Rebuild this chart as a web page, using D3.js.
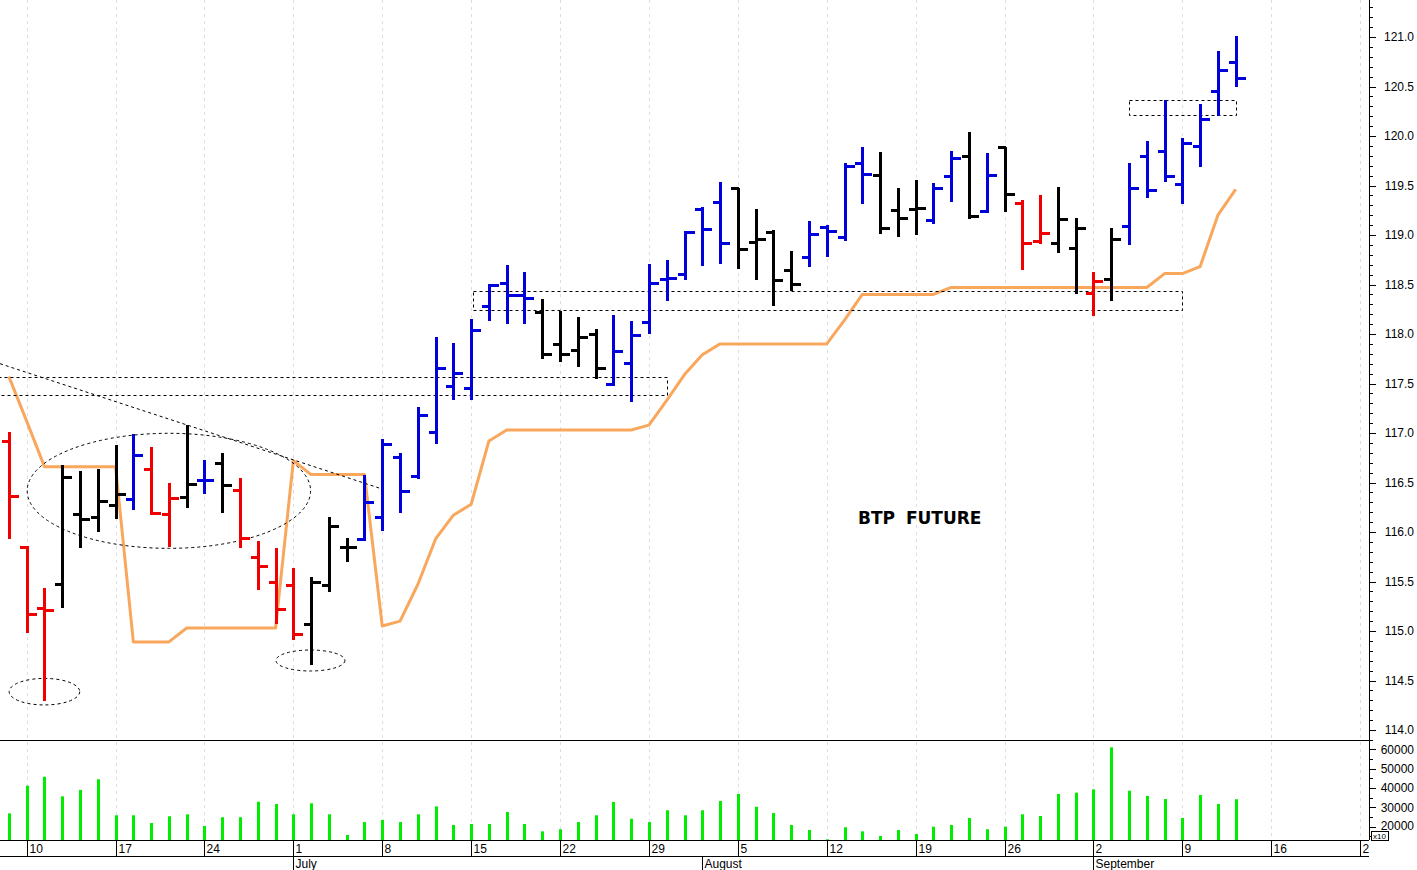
<!DOCTYPE html>
<html><head><meta charset="utf-8">
<script src="https://cdn.jsdelivr.net/npm/d3@7"></script>
<style>
html,body{margin:0;padding:0;background:#fff;}
svg{display:block;}
text{font-family:"Liberation Sans",Arial,sans-serif;}
text.title{font-family:"DejaVu Sans",Verdana,sans-serif;font-weight:bold;}
</style></head><body>
<svg id="chart" width="1417" height="870"></svg>
<script>
// ---------------- DATA ----------------
const startDate = "2019-06-07";   // first trading day shown (index 0)
const open  = [116.92,115.85,115.23,115.47,116.18,116.15,116.27,116.33,116.64,116.18,
               116.35,116.53,116.70,116.42,115.75,115.50,115.46,115.07,115.46,115.85,
               115.93,116.15,116.76,116.57,117.01,117.47,117.45,118.28,118.52,118.39,
               118.22,117.90,117.84,118.00,117.50,117.71,118.12,118.56,118.61,119.26,
               119.33,119.47,118.93,119.03,118.65,118.78,119.08,118.98,119.73,119.61,
               119.25,119.26,119.15,119.60,119.80,119.24,119.89,119.32,118.94,118.92,
               118.87,118.41,118.56,119.09,119.80,119.85,119.52,119.90,120.45,120.75];
const high  = [117.01,115.86,115.43,116.68,116.62,116.64,116.88,116.99,116.86,116.49,
               117.08,116.73,116.80,116.55,115.91,115.84,115.64,115.55,116.15,115.94,
               116.58,116.94,116.80,117.26,117.97,117.91,118.15,118.50,118.70,118.63,
               118.35,118.23,118.17,118.05,118.19,118.13,118.71,118.75,119.04,119.28,
               119.54,119.47,119.26,119.05,118.84,119.14,119.10,119.73,119.89,119.84,
               119.47,119.56,119.53,119.85,120.04,119.83,119.89,119.35,119.40,119.48,
               119.17,118.63,119.07,119.73,119.95,120.36,119.98,120.32,120.86,121.01];
const low   = [115.95,115.00,114.31,115.25,115.86,116.02,116.15,116.24,116.19,115.87,
               116.26,116.40,116.21,115.86,115.43,115.09,114.93,114.68,115.41,115.72,
               115.93,116.03,116.21,116.56,116.91,117.35,117.35,118.15,118.12,118.12,
               117.77,117.74,117.69,117.57,117.50,117.33,118.02,118.35,118.57,118.71,
               118.73,118.68,118.57,118.30,118.45,118.70,118.80,118.96,119.33,119.03,
               119.00,119.02,119.13,119.35,119.18,119.24,119.25,118.67,118.93,118.84,
               118.42,118.20,118.35,118.92,119.39,119.56,119.33,119.71,120.22,120.52];
const close = [116.36,115.17,115.21,116.56,116.13,116.31,116.38,116.78,116.19,116.34,
               116.48,116.53,116.47,115.94,115.66,115.22,114.97,115.49,116.06,115.85,
               116.30,116.89,116.41,117.18,117.66,117.61,118.04,118.49,118.39,118.36,
               117.80,117.80,117.97,117.66,117.83,117.99,118.52,118.57,119.03,119.06,
               118.92,118.86,118.96,118.55,118.51,119.01,119.04,119.70,119.62,119.07,
               119.17,119.27,119.47,119.78,119.19,119.61,119.41,118.92,119.02,119.16,
               119.07,118.54,118.96,119.47,119.45,119.60,119.93,120.17,120.67,120.59];
// bar colour state: b = blue, k = black, r = red
const barState = ["r","r","r","k","k","k","k","b","r","r",
                  "k","b","k","r","r","r","r","k","k","k",
                  "b","b","b","b","b","b","b","b","b","b",
                  "k","k","k","k","b","b","b","b","b","b",
                  "b","k","k","k","k","b","b","b","b","k",
                  "k","k","b","b","k","b","k","r","r","k",
                  "k","r","k","b","b","b","b","b","b","b"];
const volume = [26900,41200,45800,35700,39000,44500,25900,25900,21900,25400,
                26400,20400,24900,24900,32900,31700,26400,32100,26400,15700,
                22400,23500,22400,26400,30500,20900,21400,21400,27600,21400,
                17600,18700,22400,25900,32800,24100,22400,28500,25900,28500,
                33300,36900,30300,27100,20900,18300,13500,19700,17600,15200,
                18300,16200,20000,20900,24500,18700,20000,26400,25500,36900,
                37600,39300,61000,38600,35900,34300,24500,36400,31700,34200];
const stopLine = [117.57,117.12,116.66,116.66,116.66,116.66,116.66,114.89,114.89,114.89,
                  115.03,115.03,115.03,115.03,115.03,115.03,116.72,116.58,116.58,116.58,
                  116.58,115.05,115.10,115.47,115.93,116.17,116.28,116.92,117.03,117.03,
                  117.03,117.03,117.03,117.03,117.03,117.03,117.08,117.33,117.59,117.79,
                  117.90,117.90,117.90,117.90,117.90,117.90,117.90,118.14,118.40,118.40,
                  118.40,118.40,118.40,118.47,118.47,118.47,118.47,118.47,118.47,118.47,
                  118.47,118.47,118.47,118.47,118.47,118.61,118.61,118.68,119.20,119.46];
const priceTicks  = [114.0,114.5,115.0,115.5,116.0,116.5,117.0,117.5,118.0,118.5,119.0,119.5,120.0,120.5,121.0];
const volumeTicks = [20000,30000,40000,50000,60000];
const monthNames  = ["January","February","March","April","May","June","July","August","September","October","November","December"];
const titleText   = "BTP FUTURE";
// annotations in data units (bar index, price)
const boxes    = [{from:-3, to:37, lo:117.39, hi:117.57},
                  {from:26.1, to:66, lo:118.246, hi:118.434},
                  {from:63, to:69, lo:120.219, hi:120.367}];
const ellipses = [{ci:9, ri:7.97, cp:116.416, rp:0.581},
                  {ci:2, ri:1.985, cp:114.387, rp:0.134},
                  {ci:16.96, ri:1.94, cp:114.702, rp:0.106}];
const trendLine = [{i:-0.5, p:117.70},{i:20.9, p:116.44}];

// ---------------- LAYOUT ----------------
const W = 1417, H = 870;
const plotR = 1369, priceBot = 740, volBot = 840, dateBot = 856;
const colors = {b:"#0000dc", k:"#000000", r:"#f00000"};

function tradingDays(start, n){
  const out=[]; const d=new Date(start+"T00:00:00");
  while(out.length<n){ const wd=d.getDay(); if(wd!==0&&wd!==6) out.push(new Date(d)); d.setDate(d.getDate()+1); }
  return out;
}
const calendar = tradingDays(startDate, 78);

const x = d3.scaleLinear().domain([-0.5, 76.5]).range([0, plotR]);
const y = d3.scaleLinear().domain([114, 121]).range([730, 37]);
const yv = d3.scaleLinear().domain([20000, 60000]).range([826.7, 749.3]);
const px = i => Math.round(x(i)) + 0.5;
const py = v => Math.round(y(v)) + 0.5;

const svg = d3.select("#chart");
const defs = svg.append("defs");
defs.append("clipPath").attr("id","cpPrice").append("rect").attr("x",0).attr("y",0).attr("width",plotR).attr("height",priceBot);
defs.append("clipPath").attr("id","cpVol").append("rect").attr("x",0).attr("y",priceBot).attr("width",plotR).attr("height",volBot-priceBot);
defs.append("clipPath").attr("id","cpDate").append("rect").attr("x",0).attr("y",volBot).attr("width",plotR).attr("height",H-volBot);

svg.append("rect").attr("width",W).attr("height",H).attr("fill","#fff");

const mondays = d3.range(calendar.length).filter(i => calendar[i].getDay()===1);
const monthStarts = d3.range(1, calendar.length).filter(i => calendar[i].getMonth()!==calendar[i-1].getMonth());

// grid
svg.append("g").selectAll("line").data(mondays).join("line")
  .attr("x1",d=>Math.round(x(d))+0.5).attr("x2",d=>Math.round(x(d))+0.5)
  .attr("y1",0).attr("y2",volBot)
  .attr("stroke","#dcdce4").attr("stroke-width",1).attr("stroke-dasharray","3,4");

// price panel
const pg = svg.append("g").attr("clip-path","url(#cpPrice)");

// stop line
pg.append("path").datum(stopLine)
  .attr("d", d3.line().x((d,i)=>x(i)).y(d=>y(d)))
  .attr("fill","none").attr("stroke","#f8a75c").attr("stroke-width",3).attr("stroke-linejoin","round");

// annotations
const ann = pg.append("g").attr("fill","none").attr("stroke","#000").attr("stroke-width",1).attr("stroke-dasharray","3,3");
ann.selectAll("rect").data(boxes).join("rect")
  .attr("x",d=>Math.round(x(d.from))+0.5).attr("y",d=>Math.round(y(d.hi))+0.5)
  .attr("width",d=>Math.round(x(d.to)-x(d.from))).attr("height",d=>Math.round(y(d.lo)-y(d.hi)));
ann.selectAll("ellipse").data(ellipses).join("ellipse")
  .attr("cx",d=>x(d.ci)).attr("cy",d=>y(d.cp))
  .attr("rx",d=>x(d.ci+d.ri)-x(d.ci)).attr("ry",d=>y(d.cp-d.rp)-y(d.cp));
ann.append("path").datum(trendLine).attr("d", d3.line().x(d=>x(d.i)).y(d=>y(d.p)));

// OHLC bars
const bars = d3.range(open.length).map(i=>({i,o:open[i],h:high[i],l:low[i],c:close[i],col:colors[barState[i]]}));
const bg = pg.append("g").attr("stroke-width",3).attr("shape-rendering","crispEdges");
const bar = bg.selectAll("g").data(bars).join("g").attr("stroke",d=>d.col);
bar.append("line").attr("x1",d=>px(d.i)).attr("x2",d=>px(d.i)).attr("y1",d=>py(d.h)-1).attr("y2",d=>py(d.l)+1);
bar.append("line").attr("x1",d=>px(d.i)-8).attr("x2",d=>px(d.i)).attr("y1",d=>py(d.o)).attr("y2",d=>py(d.o));
bar.append("line").attr("x1",d=>px(d.i)).attr("x2",d=>px(d.i)+9).attr("y1",d=>py(d.c)).attr("y2",d=>py(d.c));

// title
svg.append("text").attr("class","title").attr("x",858).attr("y",523.5).text(titleText)
  .style("font-size","17px").style("word-spacing","5px").attr("fill","#000");

// volume panel
const vg = svg.append("g").attr("clip-path","url(#cpVol)");
vg.selectAll("rect").data(volume).join("rect")
  .attr("x",(d,i)=>Math.round(x(i))-1).attr("width",3)
  .attr("y",d=>yv(d)).attr("height",d=>volBot-yv(d))
  .attr("fill","#00ec00");

// frame lines
const frame = svg.append("g").attr("stroke","#000").attr("stroke-width",1).attr("shape-rendering","crispEdges");
frame.append("line").attr("x1",0).attr("x2",plotR).attr("y1",priceBot+0.5).attr("y2",priceBot+0.5);
frame.append("line").attr("x1",0).attr("x2",plotR).attr("y1",volBot+0.5).attr("y2",volBot+0.5);
frame.append("line").attr("x1",0).attr("x2",plotR).attr("y1",dateBot+0.5).attr("y2",dateBot+0.5);
frame.append("line").attr("x1",plotR+0.5).attr("x2",plotR+0.5).attr("y1",0).attr("y2",volBot);

// date axis
const dg = svg.append("g").attr("clip-path","url(#cpDate)");
const wk = dg.append("g").attr("transform",`translate(0,${volBot})`)
  .call(d3.axisBottom(x).tickValues(mondays).tickSize(16).tickFormat(i=>calendar[i].getDate()));
wk.select(".domain").remove();
wk.selectAll(".tick line").attr("stroke","#000").attr("shape-rendering","crispEdges");
wk.selectAll(".tick").attr("transform",d=>`translate(${Math.round(x(d))+0.5},0)`);
wk.selectAll(".tick text").attr("x",2).attr("y",13).attr("dy",null).attr("text-anchor","start")
  .attr("font-size",12).attr("fill","#000");
const mo = dg.append("g").attr("transform",`translate(0,${dateBot})`)
  .call(d3.axisBottom(x).tickValues(monthStarts).tickSize(14).tickFormat(i=>monthNames[calendar[i].getMonth()]));
mo.select(".domain").remove();
mo.selectAll(".tick line").attr("stroke","#000").attr("shape-rendering","crispEdges");
mo.selectAll(".tick").attr("transform",d=>`translate(${Math.round(x(d))+0.5},0)`);
mo.selectAll(".tick text").attr("x",2).attr("y",11.5).attr("dy",null).attr("text-anchor","start")
  .attr("font-size",12).attr("fill","#000");

// price axis
const minorP = d3.range(1139, 1214).map(v=>v/10).filter(v=>Math.abs(v*2-Math.round(v*2))>1e-6);
const ax = svg.append("g").attr("transform",`translate(${plotR+0.5},0)`);
const pMin = ax.append("g").call(d3.axisRight(y).tickValues(minorP).tickSize(3).tickFormat(""));
const pMaj = ax.append("g").call(d3.axisRight(y).tickValues(priceTicks).tickSize(6).tickFormat(d3.format(".1f")));
const minorV = [15000,25000,35000,45000,55000];
const vMin = ax.append("g").call(d3.axisRight(yv).tickValues(minorV).tickSize(3).tickFormat(""));
const vMaj = ax.append("g").call(d3.axisRight(yv).tickValues(volumeTicks).tickSize(6).tickFormat(d3.format("d")));
[pMin,pMaj,vMin,vMaj].forEach(g=>{
  g.select(".domain").remove();
  g.selectAll(".tick line").attr("stroke","#000").attr("shape-rendering","crispEdges");
  g.selectAll(".tick text").attr("x",44.5).attr("text-anchor","end").attr("font-size",12).attr("fill","#000");
});
vMaj.selectAll(".tick text").filter(d=>d===20000).attr("dy","0.2em");

// x10 multiplier box
const mb = svg.append("g");
mb.append("rect").attr("x",1371.5).attr("y",831.5).attr("width",17).attr("height",9).attr("fill","#fff").attr("stroke","#000").attr("stroke-width",1);
mb.append("text").attr("x",1373).attr("y",839).text("x10").attr("font-size",8).attr("fill","#000");
</script>
</body></html>
